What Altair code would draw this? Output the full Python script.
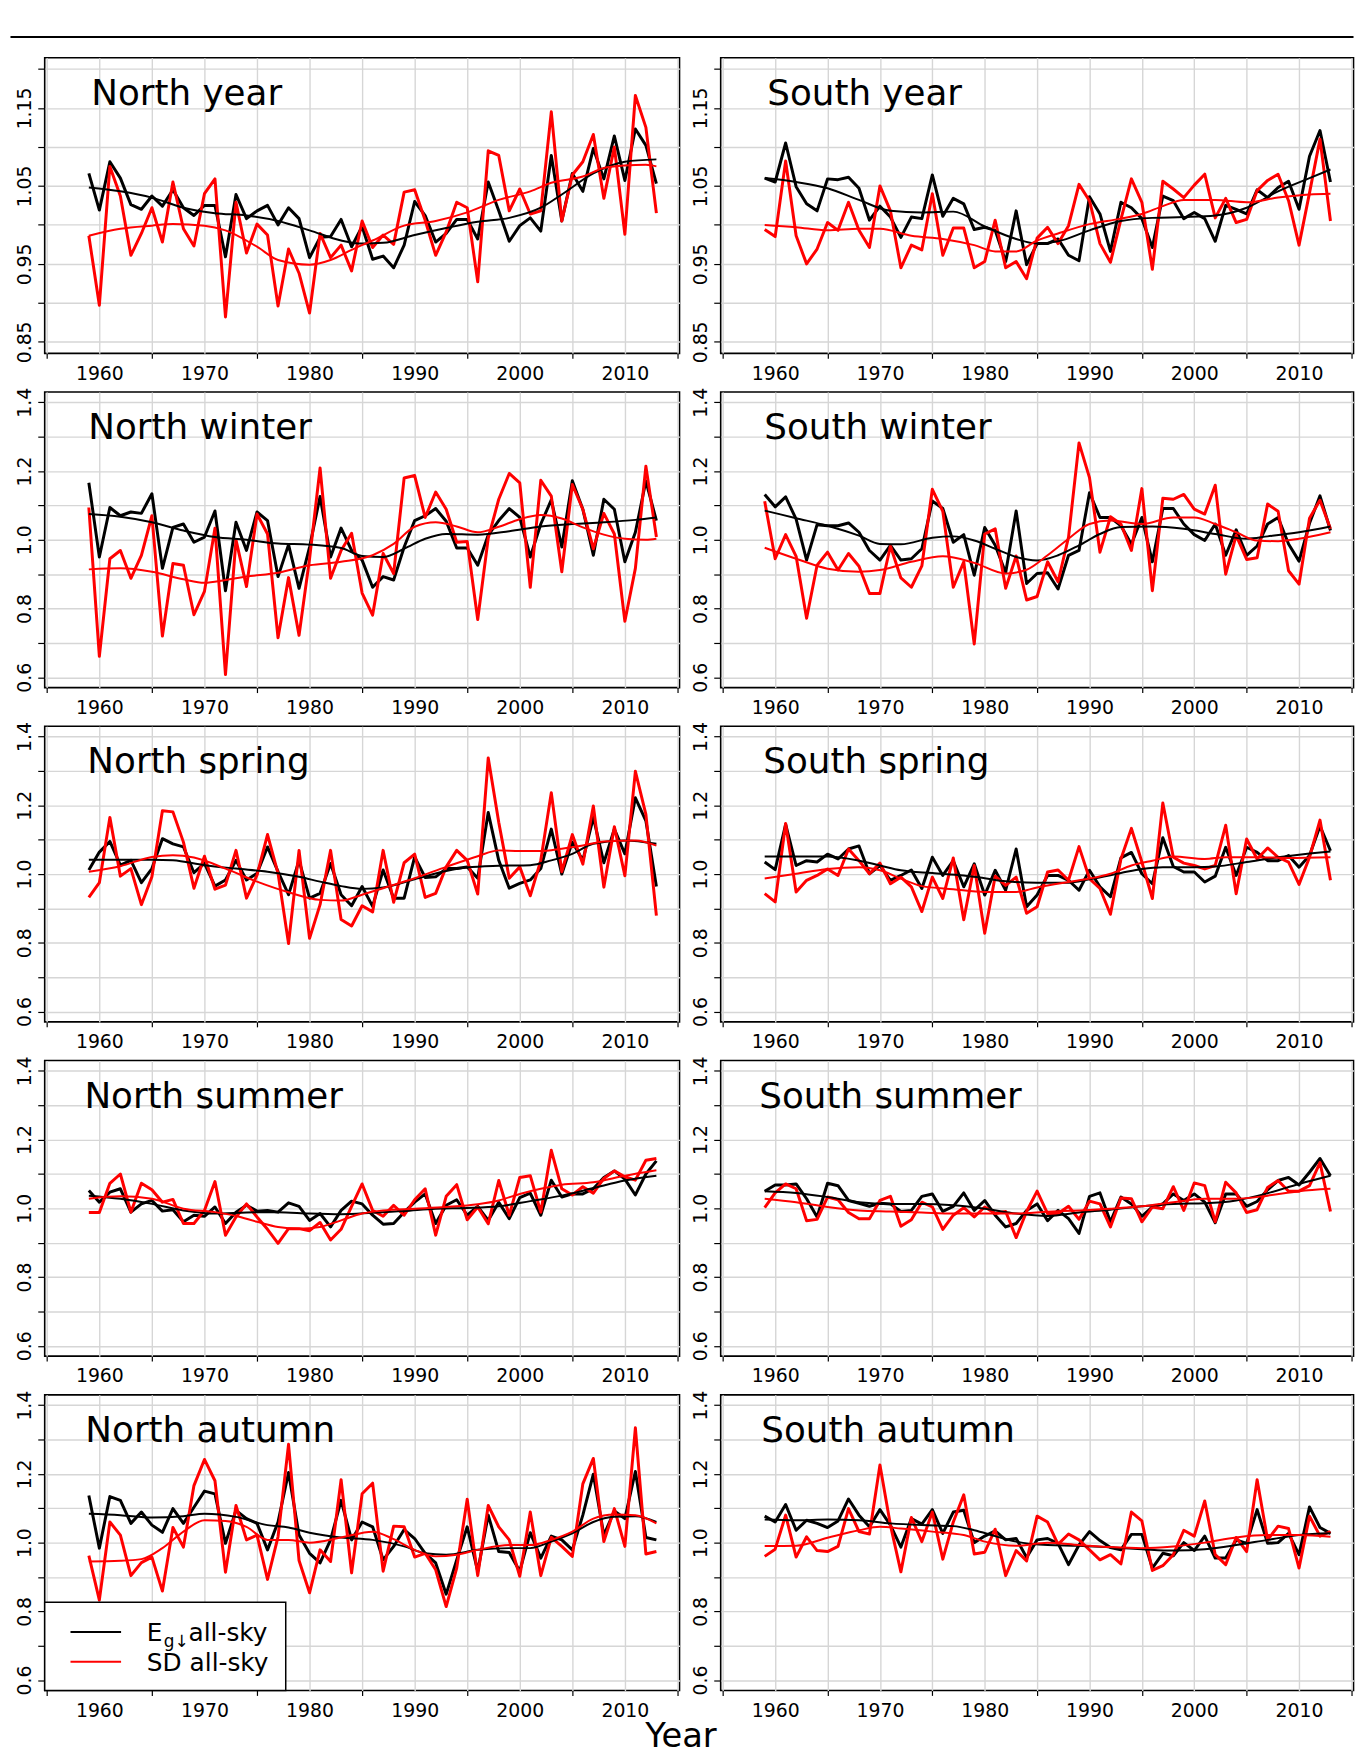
import altair as alt
import pandas as pd

YEARS = list(range(1959, 2014))

# ---------------- North year ----------------
NY_EG = [1.066, 1.019, 1.081, 1.060, 1.026, 1.020, 1.037, 1.024, 1.045, 1.022,
         1.012, 1.025, 1.025, 0.959, 1.039, 1.008, 1.018, 1.025, 1.000, 1.022,
         1.008, 0.958, 0.984, 0.985, 1.007, 0.972, 0.998, 0.956, 0.960, 0.945,
         0.974, 1.030, 1.012, 0.978, 0.989, 1.007, 1.007, 0.982, 1.055, 1.018,
         0.979, 0.999, 1.009, 0.992, 1.089, 1.005, 1.066, 1.043, 1.098, 1.059,
         1.114, 1.057, 1.123, 1.102, 1.053]
NY_SD = [0.986, 0.897, 1.075, 1.037, 0.961, 0.989, 1.022, 0.978, 1.055, 0.995,
         0.973, 1.040, 1.059, 0.882, 1.029, 0.964, 1.001, 0.987, 0.896, 0.969,
         0.938, 0.887, 0.989, 0.958, 0.974, 0.941, 1.005, 0.971, 0.987, 0.975,
         1.042, 1.045, 1.006, 0.961, 0.991, 1.029, 1.022, 0.927, 1.095, 1.089,
         1.018, 1.046, 1.014, 1.018, 1.145, 1.005, 1.064, 1.081, 1.116, 1.034,
         1.100, 0.988, 1.166, 1.125, 1.015]
NY_EG_SMOOTH = [(1959, 1.048), (1962, 1.043), (1965, 1.035), (1968, 1.022), (1971, 1.015),
                (1974, 1.012), (1977, 1.005), (1980, 0.993), (1983, 0.980), (1985, 0.976),
                (1987, 0.977), (1990, 0.987), (1993, 0.996), (1996, 1.004), (1999, 1.009),
                (2002, 1.022), (2004, 1.039), (2007, 1.066), (2010, 1.081), (2013, 1.084)]
NY_SD_SMOOTH = [(1959, 0.986), (1962, 0.995), (1965, 0.999), (1967, 1.001), (1970, 0.999),
                (1972, 0.993), (1975, 0.972), (1977, 0.955), (1980, 0.949), (1982, 0.955),
                (1984, 0.968), (1986, 0.980), (1989, 0.999), (1992, 1.005), (1995, 1.016),
                (1998, 1.032), (2001, 1.043), (2003, 1.054), (2006, 1.062), (2008, 1.073),
                (2010, 1.076), (2012, 1.077), (2013, 1.075)]

# ---------------- South year ----------------
SY_EG = [1.060, 1.055, 1.105, 1.049, 1.027, 1.018, 1.059, 1.058, 1.061, 1.047,
         1.006, 1.024, 1.010, 0.984, 1.010, 1.008, 1.064, 1.011, 1.034, 1.027,
         0.994, 0.997, 0.993, 0.953, 1.018, 0.949, 0.976, 0.976, 0.982, 0.961,
         0.954, 1.036, 1.014, 0.966, 1.029, 1.022, 1.008, 0.971, 1.037, 1.031,
         1.008, 1.016, 1.008, 0.979, 1.025, 1.020, 1.014, 1.045, 1.035, 1.048,
         1.056, 1.020, 1.088, 1.121, 1.055]
SY_SD = [0.994, 0.985, 1.082, 0.986, 0.950, 0.969, 1.003, 0.993, 1.029, 0.993,
         0.971, 1.050, 1.018, 0.945, 0.974, 0.968, 1.040, 0.961, 0.996, 0.996,
         0.945, 0.953, 1.006, 0.945, 0.953, 0.931, 0.983, 0.997, 0.976, 0.999,
         1.052, 1.031, 0.976, 0.952, 1.007, 1.059, 1.029, 0.943, 1.056, 1.046,
         1.035, 1.051, 1.065, 1.009, 1.034, 1.003, 1.007, 1.044, 1.057, 1.065,
         1.031, 0.974, 1.041, 1.110, 1.005]
SY_EG_SMOOTH = [(1959, 1.060), (1962, 1.055), (1965, 1.047), (1968, 1.032), (1971, 1.018),
                (1974, 1.016), (1977, 1.017), (1980, 0.998), (1983, 0.982), (1985, 0.976),
                (1987, 0.979), (1990, 0.993), (1993, 1.005), (1996, 1.009), (1999, 1.010),
                (2002, 1.012), (2005, 1.022), (2008, 1.043), (2011, 1.060), (2013, 1.071)]
SY_SD_SMOOTH = [(1959, 1.000), (1962, 0.997), (1965, 0.993), (1968, 0.995), (1970, 0.995),
                (1973, 0.986), (1976, 0.982), (1979, 0.974), (1981, 0.966), (1983, 0.966),
                (1985, 0.980), (1987, 0.989), (1990, 1.001), (1993, 1.008), (1995, 1.014),
                (1997, 1.024), (1999, 1.032), (2002, 1.032), (2005, 1.029), (2008, 1.035),
                (2011, 1.039), (2013, 1.040)]

# ---------------- North winter ----------------
NW_EG = [1.166, 0.950, 1.094, 1.070, 1.081, 1.077, 1.134, 0.917, 1.036, 1.046,
         0.993, 1.008, 1.084, 0.852, 1.051, 0.969, 1.081, 1.056, 0.893, 0.986,
         0.859, 0.979, 1.126, 0.950, 1.034, 0.969, 0.941, 0.862, 0.893, 0.883,
         0.979, 1.056, 1.070, 1.091, 1.054, 0.976, 0.976, 0.926, 1.014, 1.056,
         1.091, 1.065, 0.950, 1.046, 1.116, 0.979, 1.172, 1.089, 0.955, 1.118,
         1.089, 0.936, 1.022, 1.171, 1.056]
NW_SD = [1.094, 0.661, 0.945, 0.969, 0.888, 0.955, 1.070, 0.720, 0.931, 0.926,
         0.782, 0.850, 1.034, 0.608, 1.000, 0.864, 1.075, 1.017, 0.715, 0.890,
         0.722, 0.945, 1.209, 0.888, 0.969, 1.019, 0.845, 0.781, 0.960, 0.902,
         1.180, 1.187, 1.065, 1.139, 1.089, 0.993, 0.995, 0.768, 1.005, 1.118,
         1.193, 1.166, 0.862, 1.173, 1.127, 0.907, 1.161, 1.089, 0.974, 1.077,
         1.017, 0.763, 0.917, 1.214, 1.008]
NW_EG_SMOOTH = [(1959, 1.075), (1962, 1.067), (1965, 1.051), (1968, 1.027), (1971, 1.008),
                (1974, 1.000), (1977, 0.989), (1980, 0.986), (1983, 0.976), (1985, 0.953),
                (1987, 0.950), (1989, 0.974), (1991, 1.003), (1993, 1.017), (1996, 1.015),
                (1999, 1.025), (2002, 1.039), (2005, 1.046), (2008, 1.051), (2011, 1.058),
                (2013, 1.065)]
NW_SD_SMOOTH = [(1959, 0.914), (1962, 0.917), (1965, 0.907), (1968, 0.885), (1970, 0.875),
                (1972, 0.883), (1974, 0.893), (1977, 0.904), (1980, 0.926), (1983, 0.936),
                (1986, 0.955), (1988, 0.988), (1990, 1.038), (1992, 1.051), (1994, 1.039),
                (1996, 1.022), (1998, 1.038), (2000, 1.060), (2002, 1.072), (2004, 1.062),
                (2006, 1.036), (2008, 1.015), (2010, 1.003), (2012, 1.000), (2013, 1.003)]

# ---------------- South winter ----------------
SW_EG = [1.132, 1.096, 1.125, 1.060, 0.941, 1.044, 1.041, 1.041, 1.049, 1.022,
         0.969, 0.941, 0.984, 0.941, 0.945, 0.974, 1.113, 1.091, 0.993, 1.015,
         0.897, 1.036, 0.984, 0.904, 1.084, 0.873, 0.902, 0.904, 0.857, 0.955,
         0.969, 1.137, 1.065, 1.065, 1.041, 0.987, 1.065, 0.936, 1.091, 1.091,
         1.046, 1.015, 0.998, 1.046, 0.955, 1.029, 0.955, 0.982, 1.046, 1.065,
         0.988, 0.938, 1.048, 1.128, 1.027]
SW_SD = [1.112, 0.945, 1.015, 0.952, 0.772, 0.926, 0.964, 0.912, 0.960, 0.923,
         0.844, 0.844, 0.982, 0.889, 0.862, 0.924, 1.147, 1.083, 0.862, 0.936,
         0.697, 1.017, 1.032, 0.859, 0.953, 0.825, 0.835, 0.936, 0.878, 1.008,
         1.282, 1.181, 0.964, 1.067, 1.046, 0.969, 1.149, 0.852, 1.121, 1.118,
         1.132, 1.089, 1.075, 1.159, 0.900, 1.013, 0.943, 0.948, 1.104, 1.083,
         0.910, 0.871, 1.063, 1.115, 1.032]
SW_EG_SMOOTH = [(1959, 1.085), (1962, 1.063), (1965, 1.041), (1968, 1.012), (1970, 0.988),
                (1972, 0.987), (1975, 1.006), (1977, 1.010), (1979, 0.998), (1981, 0.974),
                (1983, 0.950), (1985, 0.940), (1987, 0.955), (1989, 0.984), (1991, 1.017),
                (1993, 1.037), (1996, 1.039), (1999, 1.032), (2002, 1.017), (2005, 1.003),
                (2007, 1.010), (2010, 1.022), (2013, 1.039)]
SW_SD_SMOOTH = [(1959, 0.977), (1962, 0.945), (1965, 0.916), (1968, 0.907), (1970, 0.912),
                (1973, 0.936), (1976, 0.952), (1979, 0.933), (1982, 0.902), (1984, 0.913),
                (1986, 0.955), (1988, 1.003), (1990, 1.046), (1992, 1.056), (1995, 1.046),
                (1998, 1.065), (2000, 1.065), (2002, 1.046), (2004, 1.022), (2006, 0.998),
                (2008, 0.996), (2010, 1.003), (2013, 1.022)]

# ---------------- North spring ----------------
NSP_EG = [1.012, 1.064, 1.095, 1.026, 1.040, 0.975, 1.016, 1.103, 1.088, 1.079,
          1.004, 1.031, 0.965, 0.983, 1.040, 0.983, 1.002, 1.079, 1.007, 0.940,
          1.040, 0.930, 0.944, 1.031, 0.940, 0.908, 0.964, 0.906, 1.012, 0.930,
          0.930, 1.050, 0.990, 0.992, 1.016, 1.016, 1.021, 0.988, 1.179, 1.040,
          0.959, 0.973, 0.983, 1.016, 1.131, 1.000, 1.093, 1.040, 1.165, 1.033,
          1.131, 1.059, 1.222, 1.155, 0.964]
NSP_SD = [0.932, 0.975, 1.165, 0.994, 1.016, 0.911, 0.992, 1.184, 1.181, 1.093,
          0.959, 1.052, 0.956, 0.968, 1.069, 0.930, 0.997, 1.115, 1.002, 0.798,
          1.069, 0.813, 0.911, 1.069, 0.868, 0.849, 0.908, 0.890, 1.069, 0.918,
          1.033, 1.058, 0.932, 0.944, 1.021, 1.069, 1.040, 0.942, 1.338, 1.151,
          0.988, 1.021, 0.937, 1.040, 1.237, 1.007, 1.115, 1.029, 1.198, 0.962,
          1.138, 0.995, 1.299, 1.174, 0.879]
NSP_EG_SMOOTH = [(1959, 1.042), (1962, 1.042), (1965, 1.042), (1967, 1.040), (1970, 1.026),
                 (1973, 1.016), (1976, 1.007), (1979, 0.992), (1981, 0.978), (1983, 0.965),
                 (1985, 0.957), (1987, 0.961), (1990, 0.985), (1993, 1.009), (1995, 1.019),
                 (1998, 1.024), (2001, 1.026), (2003, 1.040), (2005, 1.059), (2007, 1.088),
                 (2010, 1.098), (2013, 1.088)]
NSP_SD_SMOOTH = [(1959, 1.007), (1962, 1.023), (1965, 1.050), (1967, 1.055), (1969, 1.048),
                 (1972, 1.016), (1975, 0.978), (1978, 0.947), (1981, 0.925), (1983, 0.923),
                 (1985, 0.940), (1987, 0.959), (1990, 0.988), (1993, 1.021), (1996, 1.052),
                 (1998, 1.069), (2000, 1.067), (2002, 1.067), (2004, 1.074), (2006, 1.083),
                 (2008, 1.095), (2011, 1.098), (2013, 1.083)]

# ---------------- South spring ----------------
SSP_EG = [1.035, 1.013, 1.145, 1.025, 1.039, 1.035, 1.058, 1.044, 1.073, 1.082,
          1.001, 1.025, 0.982, 0.996, 1.012, 0.958, 1.049, 0.996, 1.039, 0.963,
          1.030, 0.939, 1.011, 0.953, 1.073, 0.905, 0.939, 0.996, 0.996, 0.982,
          0.953, 1.011, 0.963, 0.934, 1.047, 1.063, 1.001, 0.972, 1.106, 1.022,
          1.006, 1.006, 0.977, 0.994, 1.078, 0.996, 1.078, 1.063, 1.039, 1.039,
          1.054, 1.020, 1.054, 1.140, 1.068]
SSP_SD = [0.943, 0.919, 1.147, 0.948, 0.982, 0.996, 1.015, 0.996, 1.073, 1.039,
          1.001, 1.032, 0.972, 0.991, 0.963, 0.891, 0.991, 0.929, 1.047, 0.867,
          1.025, 0.828, 0.994, 0.967, 0.991, 0.886, 0.905, 1.006, 1.012, 0.982,
          1.080, 0.987, 0.958, 0.883, 1.044, 1.133, 1.035, 0.929, 1.207, 1.049,
          1.032, 1.025, 1.015, 1.025, 1.142, 0.943, 1.102, 1.044, 1.076, 1.049,
          1.035, 0.970, 1.049, 1.157, 0.982]
SSP_EG_SMOOTH = [(1959, 1.051), (1962, 1.051), (1965, 1.051), (1968, 1.039), (1970, 1.025),
                 (1972, 1.011), (1975, 1.003), (1978, 0.996), (1980, 0.988), (1982, 0.979),
                 (1985, 0.975), (1988, 0.975), (1990, 0.985), (1993, 1.003), (1995, 1.015),
                 (1997, 1.020), (2000, 1.020), (2002, 1.022), (2005, 1.035), (2008, 1.049),
                 (2011, 1.060), (2013, 1.066)]
SSP_SD_SMOOTH = [(1959, 0.987), (1962, 1.001), (1965, 1.015), (1968, 1.020), (1970, 1.011),
                 (1972, 0.987), (1974, 0.965), (1977, 0.956), (1980, 0.948), (1983, 0.948),
                 (1985, 0.961), (1988, 0.977), (1990, 0.987), (1992, 1.001), (1994, 1.025),
                 (1996, 1.039), (1998, 1.051), (2001, 1.044), (2003, 1.049), (2006, 1.049),
                 (2009, 1.047), (2013, 1.049)]

# ---------------- North summer ----------------
NSU_EG = [1.052, 1.018, 1.047, 1.057, 0.989, 1.013, 1.023, 0.992, 0.996, 0.961,
          0.980, 0.977, 1.004, 0.956, 0.989, 1.009, 0.992, 0.994, 0.989, 1.016,
          1.006, 0.965, 0.985, 0.946, 0.994, 1.021, 1.013, 0.980, 0.954, 0.956,
          0.989, 1.018, 1.042, 0.956, 1.009, 1.025, 0.980, 1.006, 0.965, 1.018,
          0.970, 1.031, 1.044, 0.980, 1.082, 1.033, 1.042, 1.042, 1.057, 1.090,
          1.109, 1.085, 1.039, 1.100, 1.138]
NSU_SD = [0.988, 0.988, 1.073, 1.100, 0.989, 1.073, 1.054, 1.018, 1.026, 0.956,
          0.956, 0.994, 1.078, 0.922, 0.975, 1.013, 0.975, 0.939, 0.898, 0.941,
          0.941, 0.935, 0.959, 0.908, 0.939, 1.006, 1.071, 0.994, 0.977, 1.009,
          0.980, 1.025, 1.057, 0.922, 1.035, 1.069, 0.967, 1.004, 0.955, 1.081,
          0.980, 1.090, 1.095, 0.989, 1.169, 1.057, 1.039, 1.063, 1.044, 1.087,
          1.109, 1.092, 1.082, 1.140, 1.145]
NSU_EG_SMOOTH = [(1959, 1.037), (1962, 1.028), (1965, 1.013), (1968, 0.994), (1971, 0.985),
                 (1974, 0.988), (1977, 0.989), (1980, 0.985), (1983, 0.983), (1986, 0.987),
                 (1989, 0.992), (1992, 0.999), (1995, 1.001), (1998, 1.006), (2001, 1.021),
                 (2004, 1.037), (2007, 1.059), (2010, 1.081), (2013, 1.095)]
NSU_SD_SMOOTH = [(1959, 1.028), (1962, 1.035), (1965, 1.028), (1968, 0.999), (1971, 0.989),
                 (1973, 0.978), (1975, 0.961), (1977, 0.946), (1979, 0.941), (1981, 0.946),
                 (1983, 0.965), (1985, 0.985), (1987, 0.994), (1990, 0.999), (1993, 1.004),
                 (1996, 1.012), (1998, 1.023), (2000, 1.042), (2002, 1.057), (2004, 1.069),
                 (2007, 1.076), (2010, 1.095), (2013, 1.111)]

# ---------------- South summer ----------------
SSU_EG = [1.050, 1.068, 1.068, 1.071, 1.028, 0.975, 1.073, 1.066, 1.023, 1.015,
          1.006, 1.015, 1.013, 0.991, 0.994, 1.035, 1.042, 0.991, 1.006, 1.045,
          0.994, 1.023, 0.980, 0.946, 0.956, 0.994, 1.013, 0.964, 0.994, 0.970,
          0.927, 1.035, 1.045, 0.961, 1.033, 1.013, 0.977, 1.004, 1.013, 1.042,
          1.023, 1.042, 1.018, 0.958, 1.042, 1.042, 1.006, 1.020, 1.054, 1.081,
          1.090, 1.068, 1.105, 1.145, 1.095]
SSU_SD = [1.002, 1.045, 1.071, 1.057, 0.964, 0.968, 1.033, 1.025, 0.988, 0.970,
          0.970, 1.023, 1.035, 0.948, 0.967, 1.018, 1.004, 0.939, 0.980, 1.002,
          0.975, 1.004, 0.985, 0.991, 0.915, 0.991, 1.050, 0.985, 0.985, 1.006,
          0.968, 1.021, 1.013, 0.946, 1.030, 1.028, 0.961, 1.004, 0.999, 1.063,
          0.994, 1.074, 1.066, 0.961, 1.076, 1.045, 0.988, 0.996, 1.061, 1.081,
          1.050, 1.050, 1.066, 1.133, 0.991]
SSU_EG_SMOOTH = [(1959, 1.050), (1962, 1.045), (1965, 1.033), (1968, 1.018), (1971, 1.013),
                 (1974, 1.013), (1977, 1.009), (1980, 0.999), (1983, 0.985), (1986, 0.978),
                 (1989, 0.988), (1992, 0.996), (1995, 1.006), (1998, 1.013), (2001, 1.015),
                 (2004, 1.023), (2007, 1.044), (2010, 1.071), (2013, 1.095)]
SSU_SD_SMOOTH = [(1959, 1.028), (1962, 1.018), (1965, 1.004), (1968, 0.994), (1971, 0.991),
                 (1974, 0.988), (1977, 0.985), (1980, 0.985), (1983, 0.985), (1986, 0.990),
                 (1989, 0.994), (1992, 0.999), (1995, 1.006), (1998, 1.018), (2001, 1.028),
                 (2004, 1.028), (2007, 1.037), (2010, 1.050), (2013, 1.057)]

# ---------------- North autumn ----------------
NA_EG = [1.137, 0.984, 1.134, 1.123, 1.056, 1.089, 1.051, 1.030, 1.099, 1.056,
         1.103, 1.150, 1.142, 0.998, 1.094, 1.070, 1.056, 0.979, 1.060, 1.204,
         1.022, 0.969, 0.941, 1.008, 1.123, 1.008, 1.060, 1.046, 0.950, 0.989,
         1.038, 1.012, 0.969, 0.941, 0.850, 0.950, 1.046, 0.917, 1.080, 0.974,
         0.971, 0.917, 1.029, 0.955, 1.019, 1.008, 0.979, 1.080, 1.199, 1.022,
         1.092, 1.070, 1.207, 1.015, 1.008]
NA_SD = [0.962, 0.833, 1.060, 1.022, 0.904, 0.942, 0.958, 0.859, 1.044, 0.987,
         1.166, 1.242, 1.180, 0.914, 1.108, 1.008, 1.022, 0.893, 1.017, 1.286,
         0.948, 0.854, 0.979, 0.945, 1.183, 0.912, 1.142, 1.173, 0.917, 1.048,
         1.046, 0.958, 0.969, 0.921, 0.814, 0.926, 1.126, 0.904, 1.108, 1.046,
         1.008, 0.902, 1.089, 0.904, 1.015, 0.989, 0.960, 1.171, 1.245, 1.003,
         1.099, 0.989, 1.334, 0.967, 0.974]
NA_EG_SMOOTH = [(1959, 1.084), (1962, 1.080), (1965, 1.073), (1968, 1.077), (1970, 1.084),
                (1973, 1.075), (1976, 1.051), (1978, 1.044), (1980, 1.029), (1983, 1.015),
                (1986, 1.008), (1989, 0.989), (1991, 0.969), (1993, 0.965), (1996, 0.979),
                (1999, 0.984), (2001, 0.984), (2003, 1.003), (2005, 1.027), (2007, 1.060),
                (2009, 1.075), (2011, 1.077), (2013, 1.060)]
NA_SD_SMOOTH = [(1959, 0.945), (1962, 0.947), (1964, 0.952), (1966, 0.984), (1968, 1.032),
                (1970, 1.065), (1972, 1.063), (1974, 1.046), (1976, 1.008), (1978, 1.008),
                (1980, 1.000), (1983, 1.015), (1986, 1.032), (1988, 1.010), (1990, 0.979),
                (1992, 0.960), (1994, 0.965), (1996, 0.979), (1999, 0.993), (2001, 0.993),
                (2003, 1.008), (2005, 1.032), (2007, 1.070), (2009, 1.082), (2011, 1.080),
                (2013, 1.056)]

# ---------------- South autumn ----------------
SA_EG = [1.077, 1.060, 1.111, 1.036, 1.065, 1.056, 1.044, 1.063, 1.127, 1.080,
         1.046, 1.096, 1.051, 0.987, 1.070, 1.054, 1.096, 1.027, 1.089, 1.094,
         1.000, 1.019, 1.034, 1.008, 1.012, 0.957, 1.008, 1.012, 0.998, 0.936,
         0.993, 1.032, 1.006, 0.986, 0.979, 1.024, 1.024, 0.926, 0.969, 0.962,
         1.000, 0.977, 1.019, 0.955, 0.955, 1.008, 0.998, 1.096, 0.998, 1.000,
         1.027, 0.965, 1.104, 1.044, 1.027]
SA_SD = [0.960, 0.981, 1.080, 0.958, 1.017, 0.977, 0.974, 0.989, 1.099, 1.032,
         1.025, 1.226, 1.051, 0.915, 1.073, 1.003, 1.089, 0.952, 1.060, 1.139,
         0.967, 0.972, 1.039, 0.904, 0.977, 0.947, 1.077, 1.060, 0.995, 1.025,
         1.008, 0.979, 0.950, 0.965, 0.938, 1.089, 1.063, 0.919, 0.933, 0.965,
         1.036, 1.019, 1.121, 0.965, 0.936, 1.015, 0.974, 1.183, 1.008, 1.048,
         1.041, 0.926, 1.077, 1.019, 1.032]
SA_EG_SMOOTH = [(1959, 1.067), (1962, 1.065), (1965, 1.067), (1968, 1.065), (1971, 1.056),
                (1974, 1.051), (1977, 1.048), (1979, 1.036), (1981, 1.019), (1983, 1.003),
                (1986, 0.993), (1989, 0.991), (1992, 0.986), (1995, 0.981), (1998, 0.977),
                (2001, 0.981), (2004, 0.993), (2007, 1.008), (2010, 1.022), (2013, 1.027)]
SA_SD_SMOOTH = [(1959, 0.990), (1962, 0.991), (1965, 1.014), (1968, 1.036), (1970, 1.046),
                (1972, 1.041), (1975, 1.032), (1978, 1.022), (1980, 1.003), (1983, 0.991),
                (1986, 1.000), (1989, 0.993), (1992, 0.987), (1995, 0.984), (1998, 0.989),
                (2001, 1.000), (2004, 1.015), (2007, 1.022), (2010, 1.022), (2013, 1.017)]

# title, black, red, black smooth, red smooth, y-kind, title x offset
PANELS = [
    ("North year", NY_EG, NY_SD, NY_EG_SMOOTH, NY_SD_SMOOTH, "year", 47),
    ("South year", SY_EG, SY_SD, SY_EG_SMOOTH, SY_SD_SMOOTH, "year", 47),
    ("North winter", NW_EG, NW_SD, NW_EG_SMOOTH, NW_SD_SMOOTH, "season", 44),
    ("South winter", SW_EG, SW_SD, SW_EG_SMOOTH, SW_SD_SMOOTH, "season", 44),
    ("North spring", NSP_EG, NSP_SD, NSP_EG_SMOOTH, NSP_SD_SMOOTH, "season", 43),
    ("South spring", SSP_EG, SSP_SD, SSP_EG_SMOOTH, SSP_SD_SMOOTH, "season", 43),
    ("North summer", NSU_EG, NSU_SD, NSU_EG_SMOOTH, NSU_SD_SMOOTH, "season", 40),
    ("South summer", SSU_EG, SSU_SD, SSU_EG_SMOOTH, SSU_SD_SMOOTH, "season", 39),
    ("North autumn", NA_EG, NA_SD, NA_EG_SMOOTH, NA_SD_SMOOTH, "season", 41),
    ("South autumn", SA_EG, SA_SD, SA_EG_SMOOTH, SA_SD_SMOOTH, "season", 41),
]

X_TICKS = [1955, 1960, 1965, 1970, 1975, 1980, 1985, 1990, 1995, 2000, 2005, 2010, 2015]
Y_TICKS_YEAR = [0.85, 0.90, 0.95, 1.00, 1.05, 1.10, 1.15, 1.20]
Y_TICKS_SEASON = [0.6, 0.7, 0.8, 0.9, 1.0, 1.1, 1.2, 1.3, 1.4]

FONT = "DejaVu Sans"
PW_LEFT = 640
PW_RIGHT = 638
PH = 298


def one():
    return pd.DataFrame({"k": [0]})


def text_layer(txt, x, y, size, align="left", baseline="alphabetic"):
    return alt.Chart(one()).mark_text(
        text=txt, font=FONT, fontSize=size, align=align, baseline=baseline, color="black"
    ).encode(x=alt.value(x), y=alt.value(y))


def make_panel(idx, title, eg, sd, egs, sds, kind, tx):
    assert len(eg) == 55 and len(sd) == 55
    if kind == "year":
        dom = [0.8353, 1.2143]
        yvals = Y_TICKS_YEAR
        lab = "round(datum.value*100) % 10 == 5 ? format(datum.value, '.2f') : ''"
    else:
        dom = [0.570, 1.430]
        yvals = Y_TICKS_SEASON
        lab = "round(datum.value*10) % 2 == 0 ? format(datum.value, '.1f') : ''"

    xenc = alt.X(
        "year:Q",
        scale=alt.Scale(domain=[1954.8, 2015.2], nice=False, zero=False),
        axis=alt.Axis(
            values=X_TICKS, format="d", title=None, grid=True,
            labelExpr="datum.value % 10 == 0 ? datum.label : ''",
            tickSize=5, labelPadding=6, labelFlush=False, labelOverlap=False,
            tickOpacity={"condition": {"test": "datum.value % 10 == 5", "value": 1}, "value": 0},
        ),
    )
    yenc = alt.Y(
        "v:Q",
        scale=alt.Scale(domain=dom, nice=False, zero=False),
        axis=alt.Axis(
            values=yvals, title=None, grid=True, labelExpr=lab,
            labelAngle=270, labelAlign="center", labelBaseline="bottom",
            tickSize=7, labelPadding=3, labelFlush=False, labelOverlap=False,
        ),
    )

    df_eg = pd.DataFrame({"year": YEARS, "v": eg})
    df_sd = pd.DataFrame({"year": YEARS, "v": sd})
    df_egs = pd.DataFrame(egs, columns=["year", "v"])
    df_sds = pd.DataFrame(sds, columns=["year", "v"])

    layers = [
        alt.Chart(df_eg).mark_line(color="#000000", strokeWidth=3, strokeJoin="round").encode(x=xenc, y=yenc),
        alt.Chart(df_sd).mark_line(color="#ff0000", strokeWidth=3, strokeJoin="round").encode(x=xenc, y=yenc),
        alt.Chart(df_egs).mark_line(color="#000000", strokeWidth=2, interpolate="monotone").encode(x=xenc, y=yenc),
        alt.Chart(df_sds).mark_line(color="#ff0000", strokeWidth=2, interpolate="monotone").encode(x=xenc, y=yenc),
        text_layer(title, tx, 47.5, 36),
    ]

    if idx == 0:
        # horizontal rule across the whole figure, above the first row
        layers.append(
            alt.Chart(one()).mark_rule(color="black", strokeWidth=2).encode(
                x=alt.value(-34.5), x2=alt.value(1319.5), y=alt.value(-21)
            )
        )

    if idx == 8:
        # legend box
        layers.append(
            alt.Chart(one()).mark_rect(fill="white", stroke="black", strokeWidth=1.5).encode(
                x=alt.value(0), x2=alt.value(243), y=alt.value(209), y2=alt.value(PH)
            )
        )
        layers.append(
            alt.Chart(one()).mark_rule(color="black", strokeWidth=2).encode(
                x=alt.value(26), x2=alt.value(77), y=alt.value(239)
            )
        )
        layers.append(
            alt.Chart(one()).mark_rule(color="#ff0000", strokeWidth=2).encode(
                x=alt.value(26), x2=alt.value(77), y=alt.value(269)
            )
        )
        layers.append(text_layer("E", 103, 248, 25))
        layers.append(text_layer("g\u2193", 120, 254, 17))
        layers.append(text_layer("all-sky", 145, 248, 25))
        layers.append(text_layer("SD all-sky", 103, 278, 25))
        # x-axis title, centred in the gap between the two columns (cut by the page edge as in the original)
        layers.append(text_layer("Year", 641.5, 355, 34, align="center"))

    w = PW_LEFT if idx % 2 == 0 else PW_RIGHT
    return alt.layer(*layers).properties(width=w, height=PH)


panels = [make_panel(i, *p) for i, p in enumerate(PANELS)]

chart = (
    alt.concat(*panels, columns=2, spacing={"row": 39, "column": 41.5}, bounds="flush")
    .properties(padding={"left": 0, "top": 20, "right": 0, "bottom": 0}, background="white")
    .configure_view(stroke="black", strokeWidth=1.6)
    .configure_axis(
        labelFont=FONT, labelFontSize=19, labelColor="black",
        tickColor="black", tickWidth=1.2, domain=False,
        gridColor="#d6d6d6", gridWidth=1.4,
    )
)

chart.save("out.html", embed_options={"renderer": "svg", "actions": False})
